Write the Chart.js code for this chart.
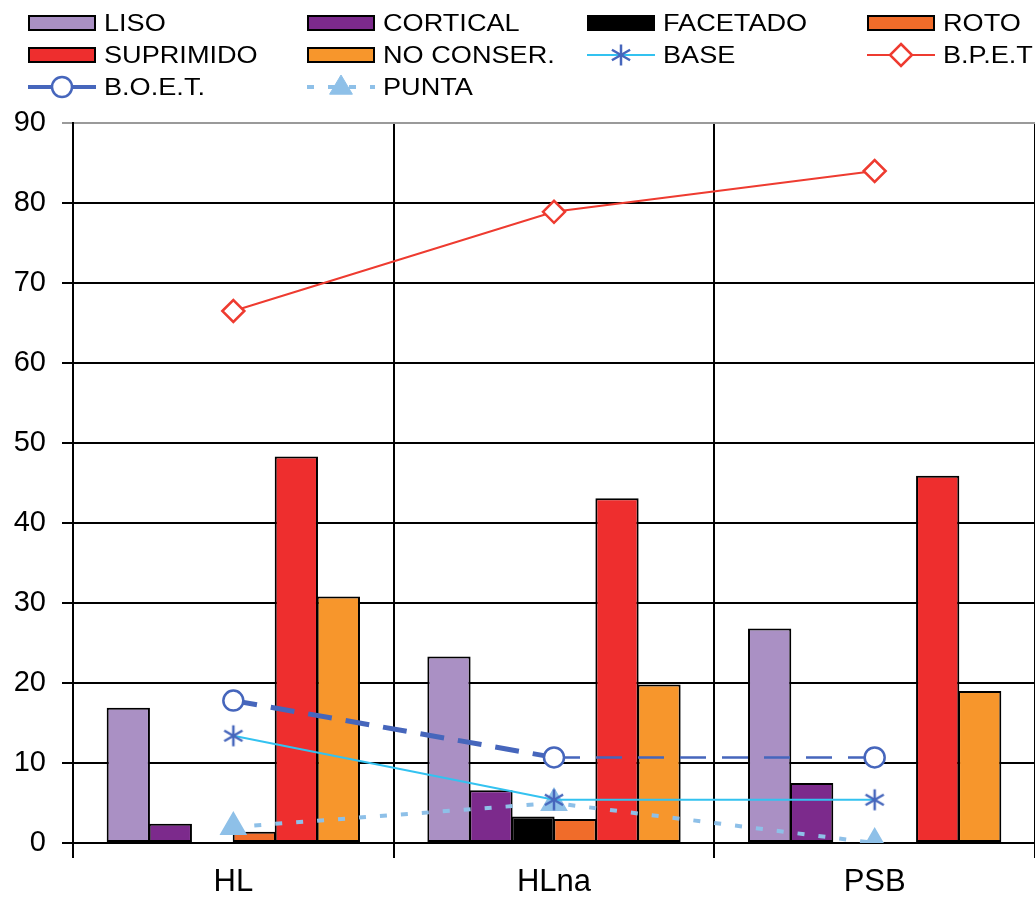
<!DOCTYPE html>
<html>
<head>
<meta charset="utf-8">
<script src="https://cdn.jsdelivr.net/npm/chart.js@4.4.1/dist/chart.umd.min.js"></script>
<style>
  html, body { margin: 0; padding: 0; background: #fff; overflow: hidden; }
  #wrap { width: 1035px; height: 903px; }
  canvas { display: block; }
</style>
</head>
<body>
<div id="wrap"><canvas id="chart" width="1035" height="903"></canvas></div>
<script>
// values
const categories = ['HL', 'HLna', 'PSB'];
const liso = [16.9, 23.3, 26.8];
const cortical = [2.4, 6.6, 7.5];
const facetado = [0, 3.3, 0];
const roto = [1.4, 3.0, 0];
const suprimido = [48.3, 43.1, 45.9];
const noConser = [30.8, 19.8, 19.0];
const bpet = [66.5, 78.9, 84.0];
const boet = [17.8, 10.7, 10.7];
const base = [13.4, 5.4, 5.4];
const punta = [2.0, 5.0, 0];
const yTicks = [0, 10, 20, 30, 40, 50, 60, 70, 80, 90];

const FONT = '"Liberation Sans", Arial, sans-serif';

// 6-arm asterisk for BASE
function makeAsterisk(size, color) {
    const c = document.createElement('canvas');
    c.width = size; c.height = size;
    const g = c.getContext('2d');
    g.strokeStyle = color;
    g.lineWidth = 2.5;
    const r = size / 2 - 1.5;
    [90, 30, 150].forEach(a => {
        const rad = a * Math.PI / 180;
        g.beginPath();
        g.moveTo(size / 2 - r * Math.cos(rad), size / 2 - r * Math.sin(rad));
        g.lineTo(size / 2 + r * Math.cos(rad), size / 2 + r * Math.sin(rad));
        g.stroke();
    });
    return c;
}
const asterisk = makeAsterisk(24, '#4666BC');

const barDs = (label, data, color) => ({
    type: 'bar', label, data, backgroundColor: color,
    borderColor: '#000', borderWidth: 2, borderSkipped: false, order: 2
});

const datasets = [
    barDs('LISO', liso, '#AA90C4'),
    barDs('CORTICAL', cortical, '#7C2A8C'),
    barDs('FACETADO', facetado, '#000000'),
    barDs('ROTO', roto, '#F06C2A'),
    barDs('SUPRIMIDO', suprimido, '#EE2E2E'),
    barDs('NO CONSER.', noConser, '#F7962C'),
    {
        type: 'line', label: 'BASE', data: base, order: 1,
        borderColor: '#33C2F0', borderWidth: 2,
        pointStyle: asterisk, pointRadius: 12
    },
    {
        type: 'line', label: 'B.P.E.T', data: bpet, order: 1,
        borderColor: '#EE3B30', borderWidth: 2,
        pointStyle: 'rectRot', pointRadius: 11, pointBorderWidth: 2.5,
        pointBackgroundColor: '#fff', pointBorderColor: '#EE3B30'
    },
    {
        type: 'line', label: 'B.O.E.T.', data: boet, order: 1,
        borderColor: '#4666BC', borderWidth: 2.5,
        segment: {
            borderWidth: ctx => ctx.p0DataIndex === 0 ? 5 : 2.5,
            borderDash: ctx => ctx.p0DataIndex === 0 ? [24, 14] : [26, 16]
        },
        pointStyle: 'circle', pointRadius: 10, pointBorderWidth: 2.5,
        pointBackgroundColor: '#fff', pointBorderColor: '#4666BC'
    },
    {
        type: 'line', label: 'PUNTA', data: punta, order: 1,
        borderColor: '#8EC0E8', borderWidth: 4, borderDash: [7, 14],
        pointStyle: 'triangle', pointRadius: 12,
        pointBackgroundColor: '#8EC0E8', pointBorderColor: '#8EC0E8'
    }
];

// legend slots: [dataset index, column, row]
const legendSlots = [
    [0, 0, 0], [1, 1, 0], [2, 2, 0], [3, 3, 0],
    [4, 0, 1], [5, 1, 1], [6, 2, 1], [7, 3, 1],
    [8, 0, 2], [9, 1, 2]
];
const legendCols = [28, 307, 587, 867];
const legendRows = [23, 55, 87];

function drawMarker(ctx, ds, x, y) {
    const st = ds.pointStyle;
    if (st instanceof HTMLCanvasElement) {
        ctx.drawImage(st, x - st.width / 2, y - st.height / 2);
        return;
    }
    const r = ds.pointRadius;
    ctx.save();
    ctx.lineWidth = ds.pointBorderWidth || 1;
    ctx.strokeStyle = ds.pointBorderColor;
    ctx.fillStyle = ds.pointBackgroundColor;
    ctx.beginPath();
    if (st === 'circle') {
        ctx.arc(x, y, r, 0, Math.PI * 2);
    } else if (st === 'rectRot') {
        ctx.moveTo(x, y - r); ctx.lineTo(x + r, y); ctx.lineTo(x, y + r); ctx.lineTo(x - r, y);
        ctx.closePath();
    } else if (st === 'triangle') {
        ctx.moveTo(x, y - r); ctx.lineTo(x + r * 0.95, y + r * 0.6); ctx.lineTo(x - r * 0.95, y + r * 0.6);
        ctx.closePath();
    }
    ctx.fill();
    ctx.stroke();
    ctx.restore();
}

const legendPlugin = {
    id: 'gridLegend',
    afterDraw(chart) {
        const ctx = chart.ctx;
        ctx.save();
        ctx.font = '24px ' + FONT;
        ctx.textBaseline = 'middle';
        ctx.fillStyle = '#000';
        legendSlots.forEach(([i, col, row]) => {
            const ds = chart.data.datasets[i];
            const x = legendCols[col], y = legendRows[row];
            if (ds.type === 'bar') {
                ctx.fillStyle = ds.backgroundColor;
                ctx.fillRect(x, y - 8, 68, 16);
                ctx.strokeStyle = '#000';
                ctx.lineWidth = 2;
                ctx.strokeRect(x + 1, y - 7, 66, 14);
            } else {
                ctx.save();
                ctx.strokeStyle = ds.borderColor;
                ctx.lineWidth = ds.label === 'B.O.E.T.' ? 4 : ds.borderWidth;
                if (ds.label === 'PUNTA') ctx.setLineDash([7, 14]);
                ctx.beginPath();
                ctx.moveTo(x, y); ctx.lineTo(x + 68, y);
                ctx.stroke();
                ctx.restore();
                drawMarker(ctx, ds, x + 34, y);
            }
            // legend text in the reference is a bit wider than plain Arial
            ctx.save();
            ctx.fillStyle = '#000';
            ctx.translate(x + 76, y + 1);
            ctx.scale(1.13, 1);
            ctx.fillText(ds.label, 0, 0);
            ctx.restore();
        });
        ctx.restore();
    }
};

new Chart(document.getElementById('chart'), {
    data: { labels: categories, datasets },
    options: {
        responsive: false,
        animation: false,
        layout: { autoPadding: false, padding: { top: 123, left: 0, right: 0, bottom: 0 } },
        plugins: { legend: { display: false }, tooltip: { enabled: false } },
        datasets: {
            bar: { categoryPercentage: 0.786, barPercentage: 1.03 }
        },
        scales: {
            x: {
                offset: true,
                grid: {
                    offset: true, color: '#000', lineWidth: 2,
                    tickLength: 15, drawOnChartArea: true
                },
                border: { color: '#000', width: 2 },
                ticks: { color: '#000', font: { family: FONT, size: 31 }, padding: 6 },
                afterFit: s => { s.height = 60; }
            },
            y: {
                min: 0, max: 90,
                afterBuildTicks: s => { s.ticks = yTicks.map(v => ({ value: v })); },
                grid: {
                    color: c => c.tick && c.tick.value === 90 ? '#9a9a9a' : '#000',
                    lineWidth: 2, tickLength: 11
                },
                border: { color: '#000', width: 2 },
                ticks: { color: '#000', font: { family: FONT, size: 29 }, padding: 16 },
                afterFit: s => { s.width = 73; }
            }
        }
    },
    plugins: [legendPlugin]
});
</script>
</body>
</html>
